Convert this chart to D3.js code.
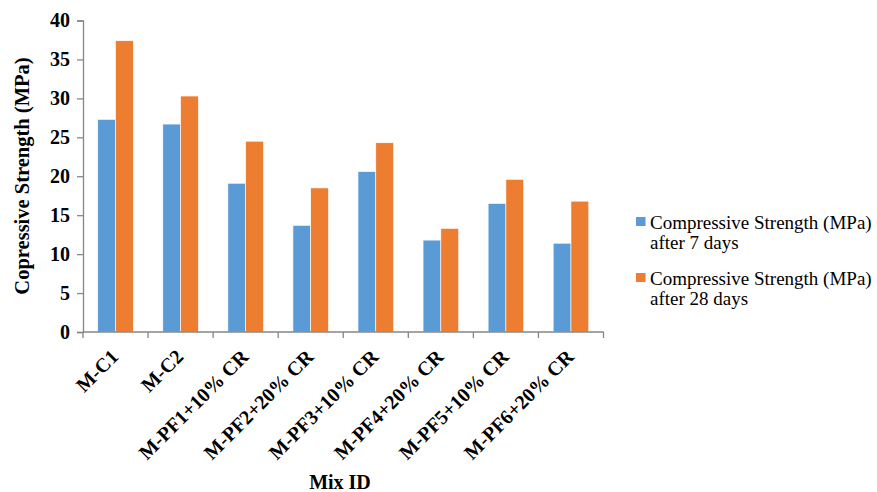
<!DOCTYPE html>
<html>
<head>
<meta charset="utf-8">
<script src="https://cdn.jsdelivr.net/npm/d3@7"></script>
<style>
  html, body { margin: 0; padding: 0; background: #fff; }
  svg { display: block; }
</style>
</head>
<body>
<svg id="chart" width="877" height="492"></svg>
<script>
// Mix designs along the x axis
const categories = ["M-C1", "M-C2", "M-PF1+10% CR", "M-PF2+20% CR", "M-PF3+10% CR", "M-PF4+20% CR", "M-PF5+10% CR", "M-PF6+20% CR"];
// Compressive strength (MPa)
const strength7 = [27.3, 26.7, 19.1, 13.7, 20.6, 11.8, 16.5, 11.4];
const strength28 = [37.4, 30.3, 24.5, 18.5, 24.3, 13.3, 19.6, 16.8];
const seriesLines = [["Compressive Strength (MPa)", "after 7 days"], ["Compressive Strength (MPa)", "after 28 days"]];
const yTicks = [0, 5, 10, 15, 20, 25, 30, 35, 40];
const colors = ["#5B9BD5", "#ED7D31"];

const FONT = "Liberation Serif";
const svg = d3.select("#chart").attr("font-family", FONT);
const plotLeft = 83, plotRight = 603.5, plotTop = 20.5, plotBottom = 332;
const axisColor = "#868686";

const x0 = d3.scaleBand().domain(categories).range([plotLeft, plotRight]).padding(0);
const x1 = d3.scaleBand().domain([0, 1]).range([0, x0.bandwidth()]).paddingInner(0).paddingOuter(0.83);
const y = d3.scaleLinear().domain([0, 40]).range([plotBottom, plotTop]);

const rows = categories.map((c, i) => ({ c, v: [strength7[i], strength28[i]] }));

// bars
const groups = svg.append("g").selectAll("g").data(rows).join("g")
  .attr("transform", d => `translate(${x0(d.c)},0)`);
groups.selectAll("rect").data(d => d.v.map((v, k) => ({ v, k }))).join("rect")
  .attr("x", d => x1(d.k))
  .attr("width", x1.bandwidth())
  .attr("y", d => y(d.v))
  .attr("height", d => y(0) - y(d.v))
  .attr("fill", d => colors[d.k])
  .attr("stroke", "#fff").attr("stroke-width", 0.6);

// y axis
const yAxis = svg.append("g").attr("transform", `translate(${plotLeft},0)`)
  .call(d3.axisLeft(y).tickValues(yTicks).tickSize(6).tickPadding(7));
yAxis.attr("font-family", FONT).attr("font-size", 20);
yAxis.select(".domain").attr("stroke", axisColor).attr("stroke-width", 1.3);
yAxis.selectAll(".tick line").attr("stroke", axisColor).attr("stroke-width", 1.3);
yAxis.selectAll(".tick text")
  .attr("font-family", FONT).attr("font-size", 20).attr("font-weight", "bold").attr("fill", "#000");

// x axis: baseline with ticks at category boundaries
const xAxis = svg.append("g");
xAxis.append("line").attr("x1", plotLeft).attr("x2", plotRight).attr("y1", plotBottom).attr("y2", plotBottom)
  .attr("stroke", axisColor).attr("stroke-width", 1.3);
const bounds = categories.map(c => x0(c)).concat([plotRight]);
xAxis.selectAll("line.tk").data(bounds).join("line").attr("class", "tk")
  .attr("x1", d => d).attr("x2", d => d).attr("y1", plotBottom).attr("y2", plotBottom + 6)
  .attr("stroke", axisColor).attr("stroke-width", 1.3);
xAxis.selectAll("text").data(categories).join("text")
  .attr("transform", d => `translate(${x0(d) + x0.bandwidth() / 2 + 4},${plotBottom + 26}) rotate(-45)`)
  .attr("text-anchor", "end")
  .attr("font-family", FONT).attr("font-size", 20).attr("font-weight", "bold")
  .text(d => d);

// axis titles
svg.append("text")
  .attr("transform", `translate(29,176) rotate(-90)`)
  .attr("text-anchor", "middle")
  .attr("font-family", FONT).attr("font-size", 20.5).attr("font-weight", "bold")
  .text("Copressive Strength (MPa)");
svg.append("text")
  .attr("x", 340).attr("y", 489)
  .attr("text-anchor", "middle")
  .attr("font-family", FONT).attr("font-size", 20).attr("font-weight", "bold")
  .text("Mix ID");

// legend
const legend = svg.append("g");
const legendY = [217, 273];
seriesLines.forEach((lines, k) => {
  legend.append("rect").attr("x", 636).attr("y", legendY[k]).attr("width", 9.5).attr("height", 9)
    .attr("fill", colors[k]);
  const t = legend.append("text").attr("x", 650).attr("y", legendY[k] + 12)
    .attr("font-family", FONT).attr("font-size", 19);
  lines.forEach((s, j) => {
    t.append("tspan").attr("x", 650).attr("dy", j === 0 ? 0 : 19.5).text(s);
  });
});
</script>
</body>
</html>
